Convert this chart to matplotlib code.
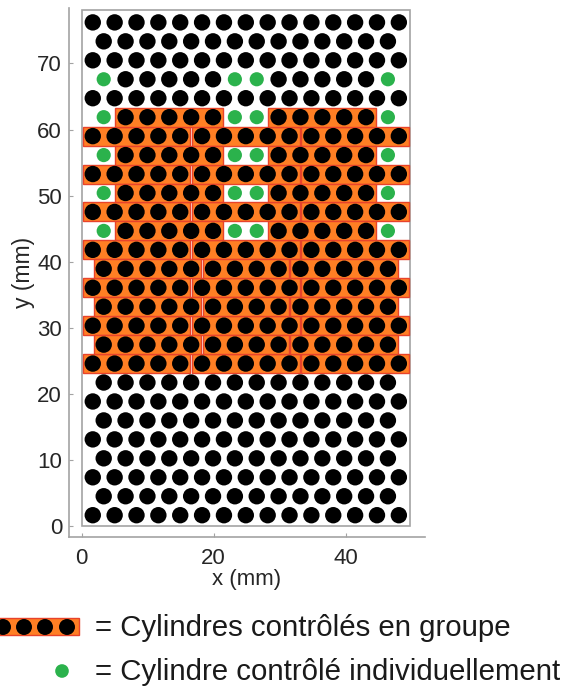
import matplotlib
matplotlib.use('Agg')
import matplotlib.pyplot as plt
from matplotlib.patches import Rectangle

plt.rcParams['font.family'] = ['Liberation Sans', 'DejaVu Sans']

# ---------------- data (hexagonal array of cylinders, mm) ----------------
pitch = 3.31          # centre-to-centre distance within a row
row_step = 2.87       # distance between rows
x0_even = 1.7         # x of first cylinder in even rows
y0 = 1.6              # y of bottom row
n_rows = 27
n_per_row = [15, 14]  # even rows / odd rows

# individually controlled cylinders (row index from bottom, column index)
green_rows = [15, 17, 19, 21, 23]
green_cols = [0, 6, 7, 13]

# cylinders controlled in groups: rows and (first col, last col) spans
group_rows_even = [8, 10, 12, 14, 16, 18, 20]
group_spans_even = [(0, 4), (5, 9), (10, 14)]
group_rows_odd = [9, 11, 13]
group_spans_odd = [(0, 4), (5, 8), (9, 13)]
group_rows_part = [15, 17, 19, 21]
group_spans_part = [(1, 5), (8, 12)]

x_ticks = [0, 20, 40]
y_ticks = [0, 10, 20, 30, 40, 50, 60, 70]
frame_w, frame_h = 49.8, 78.1

legend_texts = ["= Cylindres contrôlés en groupe",
                "= Cylindre contrôlé individuellement"]

# ---------------- figure ----------------
W, H = 568, 694
fig = plt.figure(figsize=(W / 100, H / 100), dpi=100)
ax = fig.add_axes([69 / W, 1 - 537 / H, (425 - 69) / W, (537 - 8) / H])
ax.set_xlim(-1.9, 52.0)
ax.set_ylim(-1.7, 78.4)

ORANGE = '#FF7F24'
EDGE = '#E8432B'
GREEN = '#2BB24C'
GREY = '#A3A3A3'


def cx(r, c):
    return x0_even + (pitch / 2 if r % 2 else 0) + c * pitch


def cy(r):
    return y0 + r * row_step


# frame
ax.add_patch(Rectangle((0, 0), frame_w, frame_h, fill=False,
                       edgecolor=GREY, lw=1.2, zorder=0))

# groups
gap = 0.12
for rows, spans in [(group_rows_even, group_spans_even),
                    (group_rows_odd, group_spans_odd),
                    (group_rows_part, group_spans_part)]:
    for r in rows:
        for c1, c2 in spans:
            xa = cx(r, c1) - pitch / 2 + gap
            xb = cx(r, c2) + pitch / 2 - gap
            ax.add_patch(Rectangle((xa, cy(r) - row_step / 2), xb - xa, row_step,
                                   facecolor=ORANGE, edgecolor=EDGE, lw=1.0,
                                   zorder=1))

# cylinders
bx, by, gx, gy = [], [], [], []
for r in range(n_rows):
    for c in range(n_per_row[r % 2]):
        if r in green_rows and c in green_cols:
            gx.append(cx(r, c)); gy.append(cy(r))
        else:
            bx.append(cx(r, c)); by.append(cy(r))
ax.scatter(bx, by, s=11.8 ** 2, c='black', edgecolors='none', zorder=3)
ax.scatter(gx, gy, s=10.2 ** 2, c=GREEN, edgecolors='none', zorder=3)

# axes styling
for s in ['top', 'right']:
    ax.spines[s].set_visible(False)
for s in ['left', 'bottom']:
    ax.spines[s].set_color(GREY)
    ax.spines[s].set_linewidth(1.2)
ax.set_xticks(x_ticks)
ax.set_yticks(y_ticks)
ax.tick_params(direction='in', length=3, color=GREY, labelcolor='#262626',
               labelsize=16)
ax.tick_params(axis='x', pad=8)
ax.tick_params(axis='y', pad=5)
ax.set_xlabel('x (mm)', fontsize=16, color='#262626', labelpad=0)
ax.set_ylabel('y (mm)', fontsize=16.5, color='#262626', labelpad=1.5)

# legend drawn in pixel coordinates
lg = fig.add_axes([0, 0, 1, 1], zorder=-1)
lg.set_xlim(0, W)
lg.set_ylim(H, 0)
lg.axis('off')
lg.add_patch(Rectangle((-5, 618), 84, 17, facecolor=ORANGE, edgecolor=EDGE, lw=1.0))
lg.scatter([3, 24, 45, 67], [627, 627, 627, 627], s=11.5 ** 2, c='black',
           edgecolors='none', zorder=3)
lg.scatter([62], [671], s=9.8 ** 2, c=GREEN, edgecolors='none', zorder=3)
lg.text(95, 628, legend_texts[0], fontsize=21.2, va='center', ha='left',
        color='#1a1a1a')
lg.text(95, 672, legend_texts[1], fontsize=21.2, va='center', ha='left',
        color='#1a1a1a')

fig.savefig('out.png', dpi=100)
